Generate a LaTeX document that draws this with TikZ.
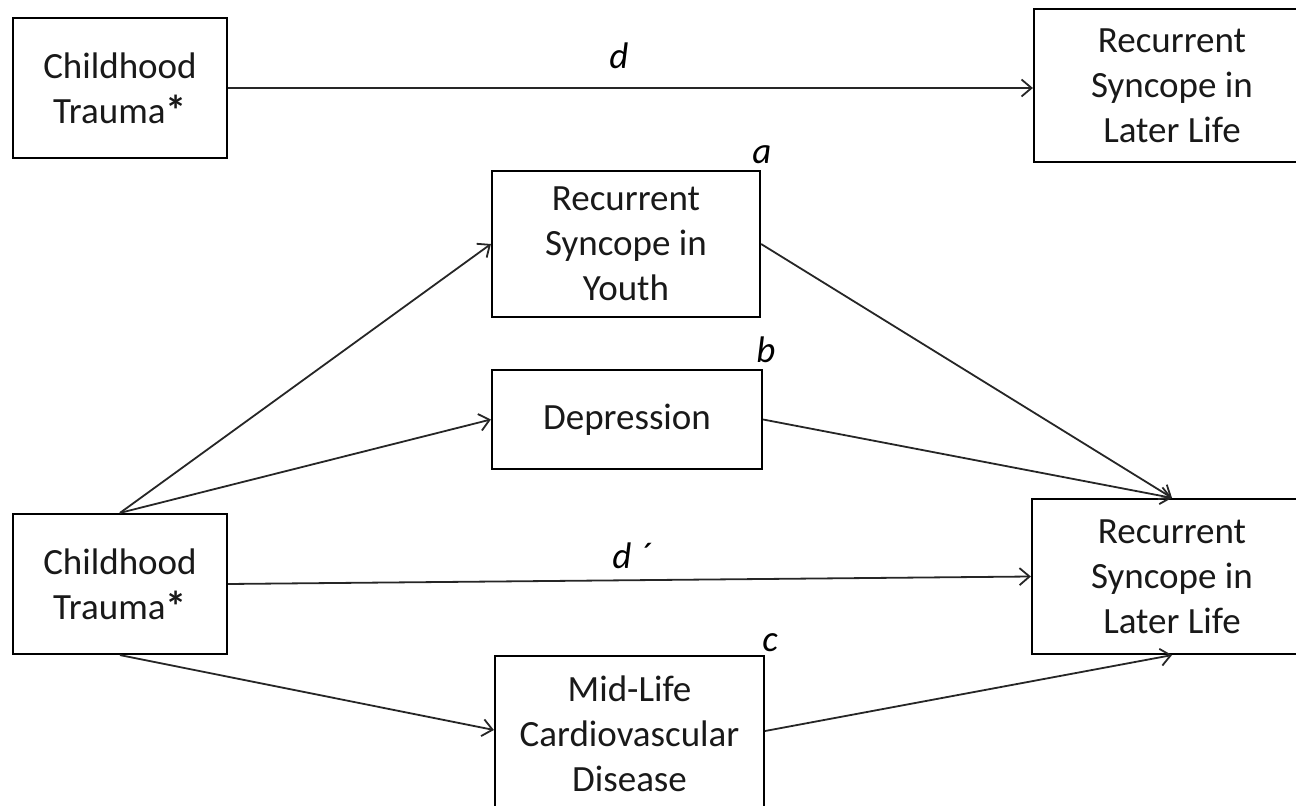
\documentclass[tikz,border=0pt]{standalone}
\usepackage{fontspec}
\usepackage{graphicx}
\setmainfont{Carlito}
\usetikzlibrary{arrows.meta,calc}
\newcommand{\bigast}{\smash{\raisebox{-1.2pt}{\scalebox{1.15}{\bfseries*}}}}
\begin{document}
\begin{tikzpicture}[x=0.5pt,y=-0.5pt,
  boxnode/.style={draw=black,line width=1.1pt,align=center,inner sep=0pt,
    font=\fontsize{18.5}{22.5}\selectfont,text=black!90},
  conn/.style={line width=0.9pt,draw=black!85,-{Straight Barb[length=5pt,width=8.5pt,line width=0.9pt]}},
  lab/.style={font=\fontsize{18.5}{22.5}\selectfont\itshape,inner sep=0pt}]
\useasboundingbox (0,0) rectangle (1296,806);
\clip (0,0) rectangle (1296,806);
\node[boxnode,minimum width=107pt,minimum height=70pt] (TL) at (120,88) {Childhood\\Trauma\bigast};
\node[boxnode,minimum width=138pt,minimum height=76.5pt] (TR) at (1172,85.5) {Recurrent\\Syncope in\\Later Life};
\node[boxnode,minimum width=134pt,minimum height=73pt] (Y) at (626,244) {Recurrent\\Syncope in\\Youth};
\node[boxnode,minimum width=135pt,minimum height=49.5pt] (D) at (627,419.5) {Depression};
\node[boxnode,minimum width=107pt,minimum height=70pt] (BL) at (120,584) {Childhood\\Trauma\bigast};
\node[boxnode,minimum width=140pt,minimum height=77.5pt] (BR) at (1172,576.5) {Recurrent\\Syncope in\\Later Life};
\node[boxnode,minimum width=134.5pt,minimum height=78pt] (C) at (629.5,734) {Mid-Life\\Cardiovascular\\Disease};
\draw[conn] (TL.east) -- (TL.east -| TR.west);
\draw[conn] (BL.north) -- (Y.west);
\draw[conn] (BL.north) -- (D.west);
\draw[conn] (Y.east) -- (BR.north);
\draw[conn] (D.east) -- (BR.north);
\draw[conn] (BL.east) -- (BR.west);
\draw[conn] (BL.south) -- ($(C.west)+(0,-4)$);
\draw[conn] ($(C.east)+(0,-3)$) -- (BR.south);
\node[lab] (ld) at (619,56) {d};
\node[lab,anchor=west] (ldp) at (612,556) {d\hspace{4pt}\char"00B4};
\node[lab] (la) at (762,155) {a};
\node[lab] (lb) at (766,350) {b};
\node[lab] (lc) at (770,643) {c};
\end{tikzpicture}
\end{document}
